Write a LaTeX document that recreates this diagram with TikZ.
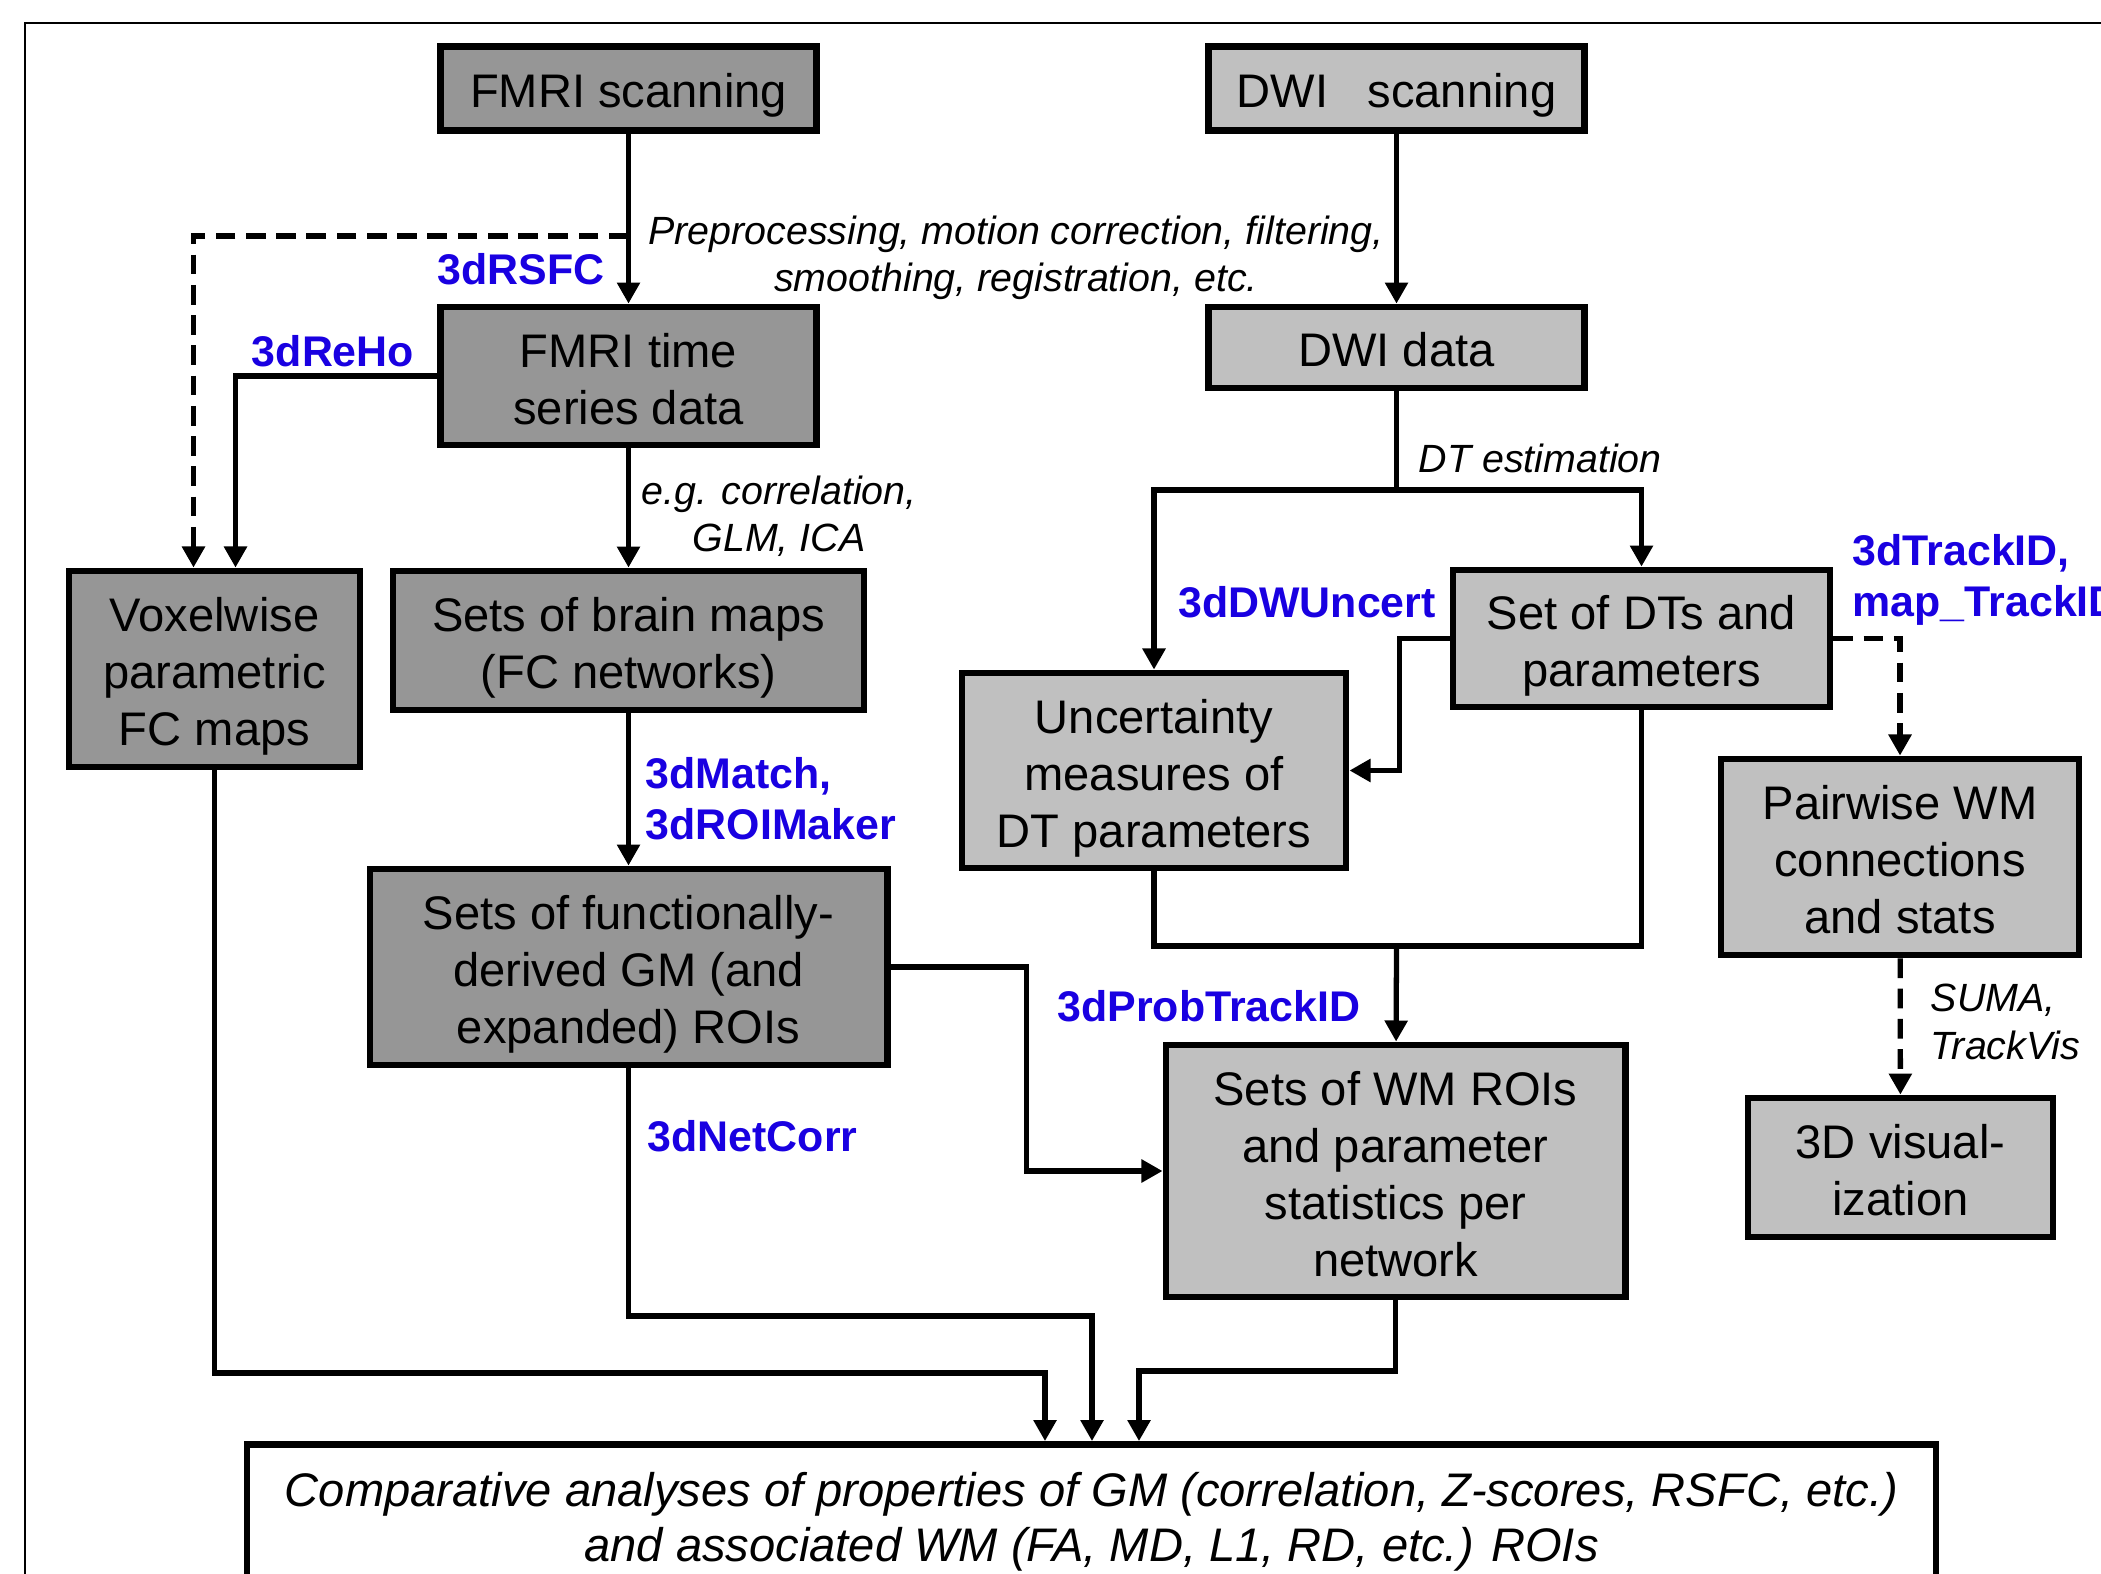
\documentclass[tikz,border=0pt]{standalone}
\usepackage{fontspec}
\setmainfont{Liberation Sans}
\usetikzlibrary{arrows.meta,calc}
\definecolor{fmrigray}{RGB}{150,150,150}
\definecolor{dwigray}{RGB}{192,192,192}
\definecolor{toolblue}{RGB}{25,0,225}

\begin{document}
\begin{tikzpicture}[x=0.01cm,y=-0.01cm,
  box/.style={draw,line width=1.9pt,align=center,inner sep=0pt,
    font=\fontsize{13.4}{16.2}\selectfont},
  fbox/.style={box,fill=fmrigray},
  dbox/.style={box,fill=dwigray},
  oneline/.style={text height=11.4pt,text depth=0.6pt},
  twolines/.style={text height=28pt,text depth=0.6pt},
  threelines/.style={text height=44.2pt,text depth=0.6pt},
  fourlines/.style={text height=60.4pt,text depth=0.6pt},
  link/.style={line width=1.5pt},
  conn/.style={link,-{Triangle[length=6pt,width=6.3pt]}},
  dconn/.style={conn,dash pattern=on 5.6pt off 3pt},
  tool/.style={text=toolblue,inner sep=0pt,align=left,
    font=\fontsize{12.2}{14.4}\selectfont\bfseries},
  note/.style={inner sep=0pt,font=\fontsize{11.2}{13.4}\selectfont\itshape}]
\useasboundingbox (0,0) rectangle (2101,1574);
\draw[line width=0.5pt] (25,1700) -- (25,23) -- (2200,23);

% boxes
\node[fbox,oneline,minimum width=3.76cm,minimum height=0.84cm] (fmriscan) at (628.5,88.5) {FMRI scanning};
\node[dbox,oneline,minimum width=3.76cm,minimum height=0.84cm] (dwiscan) at (1396.5,88.5) {DWI\ \ \ scanning};
\node[fbox,twolines,minimum width=3.76cm,minimum height=1.38cm] (fmrits) at (628.5,376) {FMRI time\\series data};
\node[dbox,oneline,minimum width=3.76cm,minimum height=0.81cm] (dwidata) at (1396.5,347.5) {DWI data};
\node[fbox,threelines,minimum width=2.91cm,minimum height=1.96cm] (vox) at (214.5,669) {Voxelwise\\parametric\\FC maps};
\node[fbox,twolines,minimum width=4.71cm,minimum height=1.39cm] (brain) at (628.5,640.5) {Sets of brain maps\\(FC networks)};
\node[dbox,threelines,minimum width=3.84cm,minimum height=1.95cm] (uncert) at (1154,770.5) {Uncertainty\\measures of\\DT parameters};
\node[dbox,twolines,minimum width=3.77cm,minimum height=1.37cm] (dtset) at (1641.5,638.5) {Set of DTs and\\parameters};
\node[dbox,threelines,minimum width=3.58cm,minimum height=1.96cm] (pairwise) at (1900,857) {Pairwise WM\\connections\\and stats};
\node[fbox,threelines,minimum width=5.17cm,minimum height=1.96cm] (funcgm) at (628.5,967) {Sets of functionally-\\derived GM (and\\expanded) ROIs};
\node[dbox,fourlines,minimum width=4.59cm,minimum height=2.52cm] (wmroi) at (1395.5,1171) {Sets of WM ROIs\\and parameter\\statistics per\\network};
\node[dbox,twolines,minimum width=3.05cm,minimum height=1.39cm] (vis3d) at (1900.5,1167.5) {3D visual-\\ization};
\node[box,fill=white,minimum width=16.88cm,minimum height=1.55cm,
  font=\fontsize{13.4}{15.6}\selectfont\itshape] (comp) at (1091.5,1522)
  {Comparative analyses of properties of GM (correlation, Z-scores, RSFC, etc.)\\and associated WM (FA, MD, L1, RD, etc.) ROIs};

% fmri side
\coordinate (rsfcsplit) at (628.5,236);
\draw[conn] (fmriscan) -- (fmrits);
\draw[dconn] (rsfcsplit) -| ($(vox.north)+(-21,0)$);
\draw[conn] (fmrits.west) -| ($(vox.north)+(21,0)$);
\draw[conn] (fmrits) -- (brain);
\draw[conn] (brain) -- (funcgm);
\node[tool,anchor=east] (rsfc) at (605,269) {3dRSFC};
\node[tool] (reho) at (333,351) {3dReHo};
\node[note,align=center] (corrnote) at (779,516) {e.g. correlation,\\GLM, ICA};
\node[tool,anchor=west] (match) at (645,799) {3dMatch,\\3dROIMaker};

% dwi side
\coordinate (dtsplit) at (1396.5,490);
\coordinate (wmjoin) at (1396.5,946);
\draw[conn] (dwiscan) -- (dwidata);
\draw[link] (dwidata) -- (dtsplit);
\draw[conn] (dtsplit) -| (uncert);
\draw[conn] (dtsplit) -| (dtset);
\draw[conn] (dtset.west) -- ++(-50,0) |- (uncert.east);
\draw[dconn] (dtset.east) -| (pairwise);
\draw[dconn] (pairwise) -- (vis3d);
\draw[link] (uncert) |- (wmjoin) -| (dtset);
\draw[conn] (wmjoin) -- (wmroi);
\draw[conn] (funcgm.east) -- ++(136,0) |- (wmroi.west);
\node[note,align=center] (prepnote) at (1016,258) {Preprocessing, motion correction, filtering,\\smoothing, registration, etc.};
\node[note,anchor=west] (dtnote) at (1418,458) {DT estimation};
\node[tool] (dwunc) at (1307,602) {3dDWUncert};
\node[tool,anchor=west] (trackid) at (1852,580) {3dTrackID,\\map\_TrackID};
\node[note,anchor=west,align=left] (visnote) at (1930,1022) {SUMA,\\TrackVis};
\node[tool] (probtrack) at (1209,1006) {3dProbTrackID};

% into the comparison box
\coordinate (voxturn) at (1045,1373);
\coordinate (netturn) at (1092,1316);
\coordinate (wmturn) at (1139,1371);
\draw[conn] (vox) |- (voxturn) -- (voxturn |- comp.north);
\draw[conn] (funcgm) |- (netturn) -- (netturn |- comp.north);
\draw[conn] (wmroi) |- (wmturn) -- (wmturn |- comp.north);
\node[tool,anchor=west] (netcorr) at (647,1136) {3dNetCorr};
\end{tikzpicture}
\end{document}
